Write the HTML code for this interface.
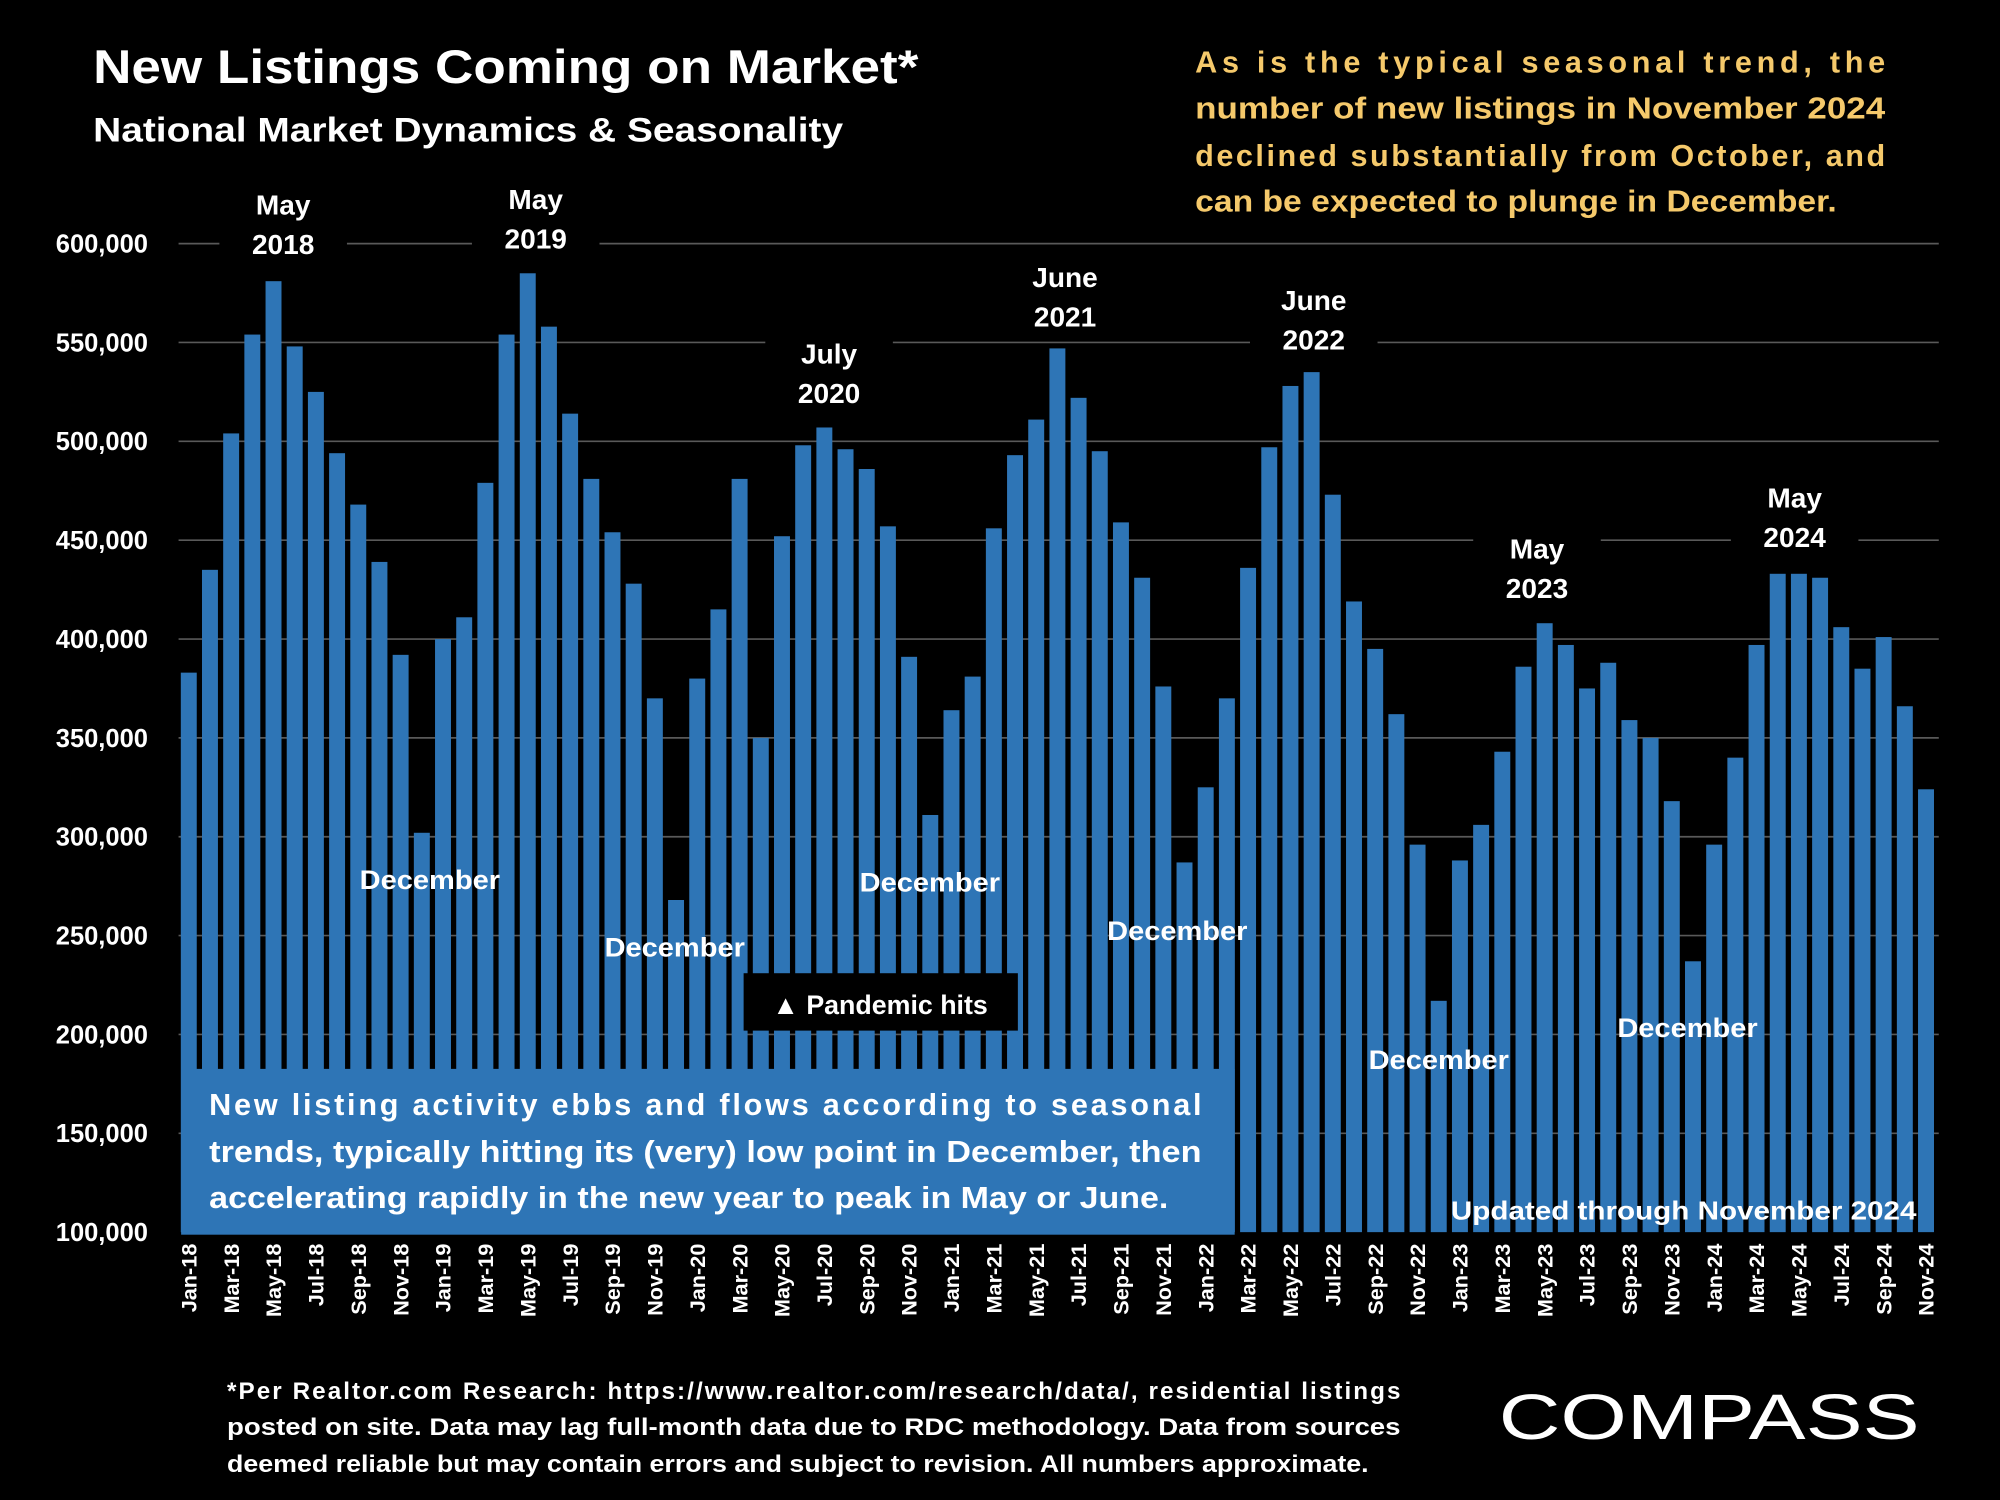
<!DOCTYPE html>
<html><head><meta charset="utf-8"><style>
html,body{margin:0;padding:0;background:#000;}
svg{display:block;}
text{font-family:"Liberation Sans",sans-serif;font-weight:bold;}
</style></head><body>
<svg id="chart" width="2000" height="1500" viewBox="0 0 1568 1176" xmlns="http://www.w3.org/2000/svg">
<rect x="0" y="0" width="1568" height="1176" fill="#000"/>
<text x="73" y="65" fill="#fff" font-size="37" textLength="647" lengthAdjust="spacingAndGlyphs">New Listings Coming on Market*</text>
<text x="73" y="111" fill="#fff" font-size="27" textLength="588" lengthAdjust="spacingAndGlyphs">National Market Dynamics &amp; Seasonality</text>
<g fill="#F5C96B" font-size="24">
<text x="937" y="57" textLength="541" lengthAdjust="spacing">As is the typical seasonal trend, the</text>
<text x="937" y="93" textLength="541" lengthAdjust="spacingAndGlyphs">number of new listings in November 2024</text>
<text x="937" y="130" textLength="541" lengthAdjust="spacing">declined substantially from October, and</text>
<text x="937" y="166" textLength="503" lengthAdjust="spacingAndGlyphs">can be expected to plunge in December.</text>
</g>
<g id="grid"></g>
<g id="bars"></g>
<g id="yaxis"></g>
<g id="xaxis"></g>
<g id="annot"></g>
<rect x="142" y="838" width="826" height="130" fill="#2E75B6"/>
<g fill="#fff" font-size="24">
<text x="164" y="874" textLength="778" lengthAdjust="spacing">New listing activity ebbs and flows according to seasonal</text>
<text x="164" y="911" textLength="778" lengthAdjust="spacingAndGlyphs">trends, typically hitting its (very) low point in December, then</text>
<text x="164" y="947" textLength="752" lengthAdjust="spacingAndGlyphs">accelerating rapidly in the new year to peak in May or June.</text>
</g>
<rect x="583" y="763" width="215" height="45" fill="#000"/>
<text x="690" y="795" fill="#fff" font-size="21" text-anchor="middle">▲ Pandemic hits</text>
<text x="1320" y="956" fill="#fff" font-size="20" text-anchor="middle" textLength="365" lengthAdjust="spacingAndGlyphs">Updated through November 2024</text>
<g fill="#fff" font-size="19">
<text x="178" y="1097" textLength="920" lengthAdjust="spacing">*Per Realtor.com Research:  https://www.realtor.com/research/data/, residential listings</text>
<text x="178" y="1125" textLength="920" lengthAdjust="spacingAndGlyphs">posted on site. Data may lag full-month data due to RDC methodology. Data from sources</text>
<text x="178" y="1154" textLength="895" lengthAdjust="spacingAndGlyphs">deemed reliable but may contain errors and subject to revision. All numbers approximate.</text>
</g>
<text x="1175" y="1128" fill="#fff" font-size="50" style="font-weight:normal" textLength="330" lengthAdjust="spacingAndGlyphs">COMPASS</text>
</svg>
<script>
const categories = [];
const months=["Jan","Feb","Mar","Apr","May","Jun","Jul","Aug","Sep","Oct","Nov","Dec"];
for(let y=18;y<=24;y++)for(let m=0;m<12;m++){if(y===24&&m===11)break;categories.push(months[m]+"-"+y);}
const listings = [383000,435000,504000,554000,581000,548000,525000,494000,468000,439000,392000,302000,
400000,411000,479000,554000,585000,558000,514000,481000,454000,428000,370000,268000,
380000,415000,481000,350000,452000,498000,507000,496000,486000,457000,391000,311000,
364000,381000,456000,493000,511000,547000,522000,495000,459000,431000,376000,287000,
325000,370000,436000,497000,528000,535000,473000,419000,395000,362000,296000,217000,
288000,306000,343000,386000,408000,397000,375000,388000,359000,350000,318000,237000,
296000,340000,397000,433000,433000,431000,406000,385000,401000,366000,324000];
const yTicks = [100000,150000,200000,250000,300000,350000,400000,450000,500000,550000,600000];
const peakLabels = [["May","2018",222,168],["May","2019",420,164],["July","2020",650,285],["June","2021",835,225],["June","2022",1030,243],["May","2023",1205,438],["May","2024",1407,398]];
const decLabels = [[11,"December",337,697],[23,"December",529,750],[35,"December",729,699],[47,"December",923,737],[59,"December",1128,838],[71,"December",1323,813]];
const NS="http://www.w3.org/2000/svg";
const yMin=100000,yMax=600000,yTop=191,yBot=966;
const y=v=>yBot-(v-yMin)/(yMax-yMin)*(yBot-yTop);
const x0=148,x1=1510;
const x=i=>x0+i*(x1-x0)/(categories.length-1);
const bw=12.5;
function mk(tag,attrs,parent){const e=document.createElementNS(NS,tag);for(const k in attrs)e.setAttribute(k,attrs[k]);document.getElementById(parent).appendChild(e);return e;}
yTicks.forEach(t=>{
 if(t>yMin){const l=mk("line",{x1:140,x2:1520,y1:y(t),y2:y(t),stroke:"#595959","stroke-width":1.3},"grid");
 
 }
 const tx=mk("text",{x:116,y:y(t)+7,fill:"#fff","font-size":20,"text-anchor":"end"},"yaxis");
 
 
 tx.textContent=t.toLocaleString("en-US");
});
listings.forEach((v,i)=>{
 const r=mk("rect",{x:x(i)-bw/2,y:y(v),width:bw,height:yBot-y(v),fill:"#2E75B6"},"bars");
 
 
});
categories.forEach((c,i)=>{
 if(i%2)return;
 const t=mk("text",{x:0,y:0,fill:"#fff","font-size":17,"text-anchor":"end",transform:`translate(${x(i)+6},975) rotate(-90)`},"xaxis");
 
 
 t.textContent=c;
});
peakLabels.forEach(p=>{
 const cx=p[2],base=p[3];
 const b=mk("rect",{x:cx-50,y:base-26,width:100,height:66,fill:"#000"},"annot");
 
 
 const t1=mk("text",{x:cx,y:base,fill:"#fff","font-size":22,"text-anchor":"middle"},"annot");
 
 
 t1.textContent=p[0];
 const t2=mk("text",{x:cx,y:base+31,fill:"#fff","font-size":22,"text-anchor":"middle"},"annot");
 
 
 t2.textContent=p[1];
});
decLabels.forEach(d=>{
 const t=mk("text",{x:d[2],y:d[3],fill:"#fff","font-size":21,"text-anchor":"middle",textLength:110,lengthAdjust:"spacingAndGlyphs"},"annot");
 
 
 t.textContent=d[1];
});
</script>
</body></html>
